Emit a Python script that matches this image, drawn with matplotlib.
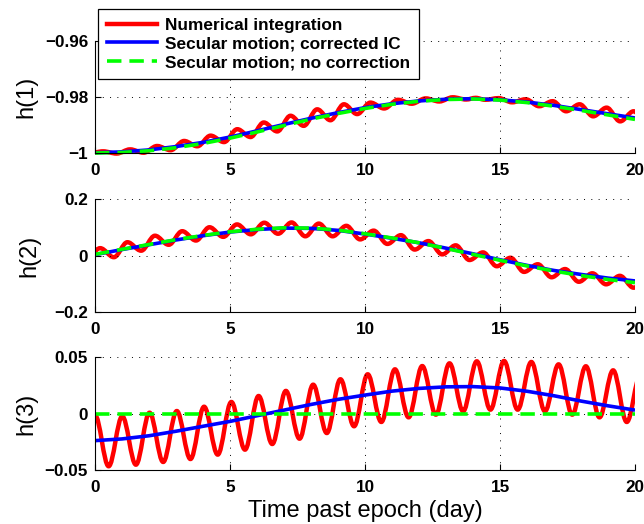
import matplotlib.pyplot as plt
from matplotlib.path import Path
from matplotlib.patches import PathPatch, Rectangle
from matplotlib.lines import Line2D

plt.rcParams['font.family'] = ['Liberation Sans', 'DejaVu Sans']
plt.rcParams['font.weight'] = 'bold'

# secular solutions, one sample per day
days = [0, 1, 2, 3, 4, 5, 6, 7, 8, 9, 10, 11, 12, 13, 14, 15, 16, 17, 18, 19, 20]
h1_corr = [-0.9999, -0.9996, -0.9989, -0.9977, -0.9962, -0.9943, -0.9921, -0.9898, -0.9876, -0.9856, -0.9838,
           -0.9824, -0.9814, -0.9808, -0.9806, -0.9810, -0.9818, -0.9830, -0.9845, -0.9860, -0.9875]
h1_nocorr = [-1.0000, -0.9998, -0.9992, -0.9981, -0.9966, -0.9947, -0.9925, -0.9902, -0.9879, -0.9859, -0.9841,
             -0.9826, -0.9815, -0.9809, -0.9807, -0.9811, -0.9820, -0.9833, -0.9848, -0.9864, -0.9880]
h2_corr = [0.003, 0.021, 0.038, 0.055, 0.070, 0.083, 0.092, 0.097, 0.096, 0.089, 0.076,
           0.061, 0.045, 0.026, 0.006, -0.015, -0.035, -0.053, -0.067, -0.080, -0.090]
h2_nocorr = [0.004, 0.022, 0.039, 0.056, 0.071, 0.084, 0.093, 0.098, 0.097, 0.090, 0.077,
             0.062, 0.045, 0.025, 0.004, -0.017, -0.037, -0.055, -0.071, -0.085, -0.096]
h3_corr = [-0.0240, -0.0225, -0.0197, -0.0157, -0.0113, -0.0070, -0.0020, 0.0030, 0.0080, 0.0125, 0.0163,
           0.0198, 0.0222, 0.0236, 0.0238, 0.0226, 0.0197, 0.0157, 0.0110, 0.0068, 0.0030]
h3_nocorr = [0, 0, 0, 0, 0, 0, 0, 0, 0, 0, 0, 0, 0, 0, 0, 0, 0, 0, 0, 0, 0]

# numerical integration: turning points (alternating max/min) of the fast oscillation
h1_num_t = [-0.20, 0.30, 0.80, 1.30, 1.80, 2.30, 2.80, 3.30, 3.79, 4.28, 4.78, 5.27, 5.76, 6.25, 6.75, 7.24,
            7.73, 8.23, 8.72, 9.22, 9.71, 10.20, 10.71, 11.22, 11.73, 12.25, 12.75, 13.25, 13.75, 14.10,
            14.45, 14.95, 15.45, 15.95, 16.45, 16.95, 17.45, 17.95, 18.45, 18.95, 19.45, 19.95, 20.45]
h1_num = [-1.0001, -0.9994, -1.0002, -0.9987, -0.9999, -0.9975, -0.9990, -0.9957, -0.9976, -0.9938, -0.9961,
          -0.9915, -0.9943, -0.9891, -0.9923, -0.9867, -0.9903, -0.9844, -0.9883, -0.9826, -0.9861, -0.9820,
          -0.9841, -0.9810, -0.9824, -0.9805, -0.9816, -0.9801, -0.9809, -0.9803, -0.9810, -0.9804, -0.9819,
          -0.9808, -0.9833, -0.9815, -0.9851, -0.9826, -0.9869, -0.9838, -0.9887, -0.9851, -0.9904]

h2_num_t = [-0.32, 0.19, 0.70, 1.20, 1.71, 2.22, 2.73, 3.23, 3.74, 4.24, 4.75, 5.26, 5.77, 6.27, 6.78, 7.28,
            7.79, 8.29, 8.80, 9.31, 9.82, 10.32, 10.83, 11.33, 11.84, 12.35, 12.86, 13.36, 13.87, 14.37,
            14.88, 15.39, 15.89, 16.40, 16.91, 17.41, 17.92, 18.42, 18.93, 19.44, 19.95, 20.45]
h2_num = [-0.012, 0.026, -0.006, 0.047, 0.017, 0.070, 0.038, 0.086, 0.053, 0.100, 0.066, 0.110, 0.075, 0.116,
          0.077, 0.117, 0.068, 0.113, 0.068, 0.105, 0.057, 0.088, 0.041, 0.072, 0.021, 0.051, 0.004, 0.036,
          -0.016, 0.011, -0.038, -0.008, -0.058, -0.031, -0.077, -0.048, -0.093, -0.063, -0.102, -0.072,
          -0.114, -0.082]

h3_num_t = [0.00, 0.505, 1.01, 1.515, 2.02, 2.525, 3.03, 3.535, 4.04, 4.545, 5.05, 5.555, 6.06, 6.565, 7.07,
            7.575, 8.08, 8.585, 9.09, 9.595, 10.10, 10.605, 11.11, 11.615, 12.12, 12.625, 13.13, 13.635,
            14.14, 14.645, 15.15, 15.655, 16.16, 16.665, 17.17, 17.675, 18.18, 18.685, 19.19, 19.695, 20.20]
h3_num = [-0.0015, -0.0467, -0.0025, -0.0453, 0.0007, -0.0429, 0.0022, -0.0403, 0.0060, -0.0364, 0.0102,
          -0.0320, 0.0155, -0.0270, 0.0200, -0.0223, 0.0255, -0.0173, 0.0303, -0.0113, 0.0347, -0.0075,
          0.0391, -0.0034, 0.0420, -0.0010, 0.0444, 0.0020, 0.0462, 0.0034, 0.0465, 0.0034, 0.0456, 0.0020,
          0.0435, -0.0010, 0.0418, -0.0034, 0.0382, -0.0075, 0.0340]

yticks = [[-1, -0.98, -0.96], [-0.2, 0, 0.2], [-0.05, 0, 0.05]]
ytick_labels = [['\u22121', '\u22120.98', '\u22120.96'], ['\u22120.2', '0', '0.2'], ['\u22120.05', '0', '0.05']]
ylims = [(-1, -0.96), (-0.2, 0.2), (-0.05, 0.05)]
xticks = [0, 5, 10, 15, 20]
ylabels = ['h(1)', 'h(2)', 'h(3)']


def wiggle(t, v, k=0.3634):
    # half-cosine between successive turning points, as cubic Bezier pieces
    verts = [(t[0], v[0])]
    codes = [Path.MOVETO]
    for i in range(len(t) - 1):
        dt = t[i + 1] - t[i]
        verts += [(t[i] + k * dt, v[i]), (t[i + 1] - k * dt, v[i + 1]), (t[i + 1], v[i + 1])]
        codes += [Path.CURVE4] * 3
    return Path(verts, codes)


fig = plt.figure(figsize=(6.44, 5.24), dpi=100)
W, H = 644.0, 524.0
boxes = [(41, 153), (199, 312), (357, 470)]
label_x = [-0.107, -0.102, -0.107]

num = [(h1_num_t, h1_num), (h2_num_t, h2_num), (h3_num_t, h3_num)]
corr = [h1_corr, h2_corr, h3_corr]
nocorr = [h1_nocorr, h2_nocorr, h3_nocorr]

for i in range(3):
    top, bot = boxes[i]
    ax = fig.add_axes([95 / W, 1 - bot / H, 540 / W, (bot - top) / H])
    clip = Rectangle((0, -0.05), 1, 1.1, transform=ax.transAxes, visible=False)
    ax.add_patch(clip)

    red = PathPatch(wiggle(*num[i]), facecolor='none', edgecolor='red', lw=3.2, joinstyle='round')
    ax.add_patch(red)
    red.set_clip_path(clip)
    ln, = ax.plot(days, corr[i], color='blue', lw=2.6, solid_capstyle='butt')
    ln.set_clip_path(clip)
    ln, = ax.plot(days, nocorr[i], color=(0, 1, 0), lw=2.6, dashes=(4, 2.2))
    ln.set_clip_path(clip)

    ax.set_xlim(0, 20)
    ax.set_ylim(*ylims[i])
    ax.set_xticks(xticks)
    ax.set_xticklabels([str(x) for x in xticks])
    ax.set_yticks(yticks[i])
    ax.set_yticklabels(ytick_labels[i])
    ax.tick_params(direction='in', length=4, width=0.8, labelsize=12.3, pad=5)
    ax.tick_params(axis='x', pad=7)
    ax.grid(True, color='k', lw=0.7, linestyle=(0, (1, 6.5)))
    ax.spines['top'].set_visible(False)
    ax.spines['right'].set_visible(False)
    ax.spines['left'].set_linewidth(0.8)
    ax.spines['bottom'].set_linewidth(0.8)
    ax.set_ylabel(ylabels[i], fontsize=17, fontweight='normal')
    ax.yaxis.set_label_coords(label_x[i], 0.5)
    if i == 2:
        ax.set_xlabel('Time past epoch (day)', fontsize=17, fontweight='normal', labelpad=4)

handles = [Line2D([], [], color='red', lw=3.2),
           Line2D([], [], color='blue', lw=2.6),
           Line2D([], [], color=(0, 1, 0), lw=2.6, dashes=(4, 2.2))]
labels = ['Numerical integration', 'Secular motion; corrected IC', 'Secular motion; no correction']
leg = fig.legend(handles, labels, loc='upper left', bbox_to_anchor=(98 / W, 1 - 9 / H),
                 borderaxespad=0, fancybox=False, framealpha=1, edgecolor='k',
                 prop={'size': 12.4, 'weight': 'bold'}, handlelength=2.9, handletextpad=0.5,
                 labelspacing=0.22, borderpad=0.5)
leg.get_frame().set_linewidth(0.9)

fig.savefig('out.png', dpi=100)
